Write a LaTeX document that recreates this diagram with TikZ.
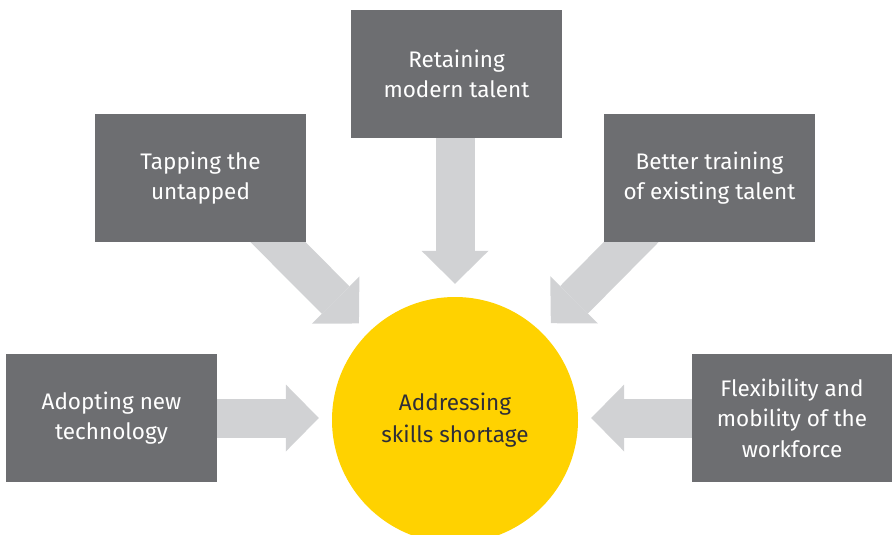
\documentclass[tikz,border=0pt]{standalone}
\usepackage{fontspec}
\setmainfont{Fira Sans}
\usetikzlibrary{arrows.meta,backgrounds}
\definecolor{boxgray}{HTML}{6D6E71}
\definecolor{arrowgray}{HTML}{D1D2D4}
\definecolor{hubyellow}{HTML}{FFD200}
\definecolor{hubtext}{HTML}{2E2E38}
\begin{document}
\begin{tikzpicture}[x=1pt,y=-1pt,
    box/.style={fill=boxgray, text=white, align=center, inner sep=0pt,
        minimum width=211pt, minimum height=128pt, font=\fontsize{22.5}{30.5}\selectfont},
    hub/.style={circle, fill=hubyellow, text=hubtext, align=center, inner sep=0pt,
        minimum size=246pt, font=\fontsize{22.5}{32}\selectfont},
    bigarrow/.style={draw=arrowgray, line width=39pt,
        -{Triangle[length=33pt,width=67pt,line width=0pt]}, shorten >=13pt}]
    \useasboundingbox (0,0) rectangle (892,535);
    \clip (0,0) rectangle (892,535);

\node[hub] (cc) at (455,420) {Addressing\\skills shortage};

\node[box] (rt) at (456.5,74) {Retaining\\modern talent};
\node[box] (tt) at (200.5,178) {Tapping the\\untapped};
\node[box] (bt) at (709.5,178) {Better training\\of existing talent};
\node[box] (ad) at (111.5,418) {Adopting new\\technology};
\node[box, minimum width=200pt] (fl) at (792,418) {Flexibility and\\mobility of the\\workforce};

\coordinate (tt-in) at (250,214);
\coordinate (bt-in) at (660,213);

\begin{scope}[on background layer]
    \draw[bigarrow] (cc.north |- rt.south) -- (cc.north);
    \draw[bigarrow] (tt-in) -- (cc);
    \draw[bigarrow] (bt-in) -- (cc);
    \draw[bigarrow] (ad.east) -- (ad.east -| cc.west);
    \draw[bigarrow] (fl.west) -- (fl.west -| cc.east);
\end{scope}

\end{tikzpicture}
\end{document}
